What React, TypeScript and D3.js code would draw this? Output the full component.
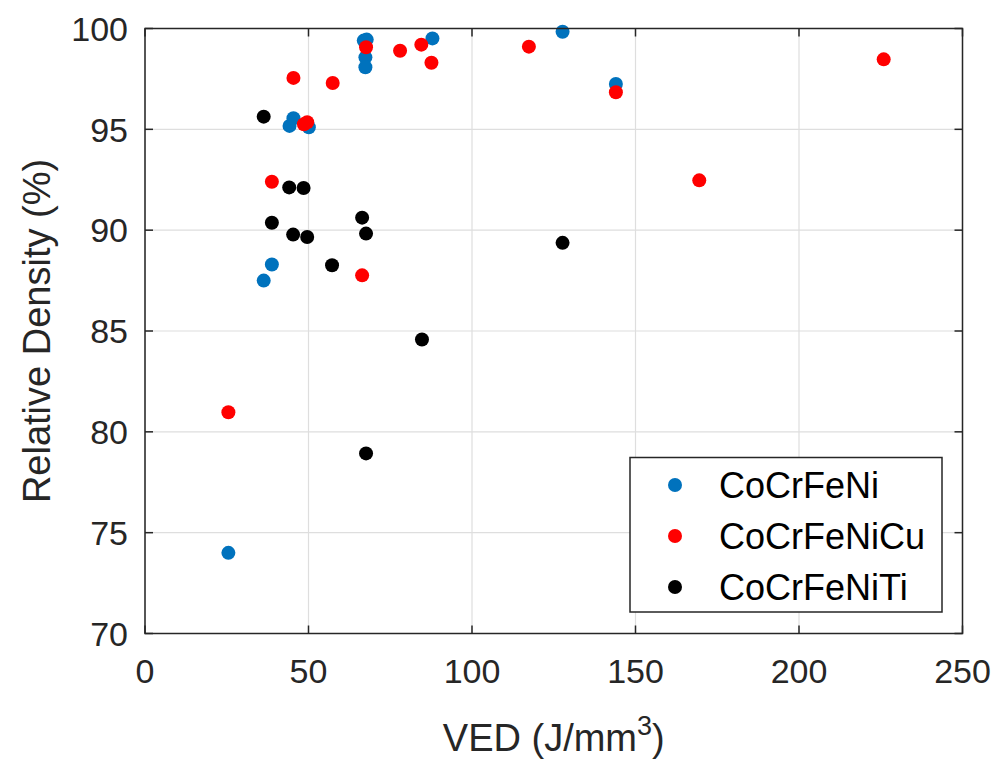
import React, { useRef, useEffect } from 'react';
import * as d3 from 'd3';

// Scatter of relative density vs volumetric energy density for three alloys

const X_TICKS = [0, 50, 100, 150, 200, 250];
const Y_TICKS = [70, 75, 80, 85, 90, 95, 100];

const SERIES_NAMES = ['CoCrFeNi', 'CoCrFeNiCu', 'CoCrFeNiTi'];
const SERIES_COLORS = ['#0072BD', '#FF0000', '#000000'];

// [VED, relative density]
const COCRFENI: [number, number][] = [
  [25.5, 74.0],
  [36.3, 87.5],
  [38.8, 88.3],
  [44.2, 95.17],
  [45.4, 95.55],
  [50.1, 95.1],
  [66.9, 99.4],
  [67.8, 99.45],
  [67.4, 98.57],
  [67.4, 98.08],
  [87.9, 99.51],
  [127.7, 99.84],
  [144.0, 97.25],
];

const COCRFENICU: [number, number][] = [
  [25.5, 80.97],
  [38.8, 92.4],
  [45.4, 97.55],
  [48.6, 95.25],
  [49.6, 95.35],
  [57.4, 97.3],
  [66.4, 87.76],
  [67.6, 99.07],
  [78.0, 98.9],
  [84.5, 99.2],
  [87.6, 98.3],
  [117.4, 99.1],
  [144.0, 96.84],
  [169.5, 92.47],
  [225.9, 98.47],
];

const COCRFENITI: [number, number][] = [
  [36.3, 95.63],
  [38.8, 90.37],
  [44.1, 92.12],
  [45.3, 89.78],
  [48.5, 92.09],
  [49.6, 89.66],
  [57.2, 88.26],
  [66.4, 90.62],
  [67.6, 89.83],
  [67.6, 78.93],
  [84.7, 84.58],
  [127.7, 89.37],
];

const ALL_SERIES = [COCRFENI, COCRFENICU, COCRFENITI];

const WIDTH = 1005;
const HEIGHT = 760;
const FONT = '"Liberation Sans", Arial, sans-serif';
const AXIS_COLOR = '#262626';

const App: React.FC = () => {
  const svgRef = useRef<SVGSVGElement>(null);

  useEffect(() => {
    if (!svgRef.current) return;
    const root = d3.select(svgRef.current);
    root.selectAll('*').remove();

    const left = 145;
    const right = 962.5;
    const top = 28.5;
    const bottom = 633.5;

    const x = d3.scaleLinear().domain([0, 250]).range([left, right]);
    const y = d3.scaleLinear().domain([70, 100]).range([bottom, top]);

    root.append('rect').attr('width', WIDTH).attr('height', HEIGHT).attr('fill', '#fff');

    // Grid
    const grid = root.append('g').attr('stroke', '#dedede').attr('stroke-width', 1.2);
    X_TICKS.forEach((t) => {
      grid.append('line').attr('x1', x(t)).attr('x2', x(t)).attr('y1', top).attr('y2', bottom);
    });
    Y_TICKS.forEach((t) => {
      grid.append('line').attr('x1', left).attr('x2', right).attr('y1', y(t)).attr('y2', y(t));
    });

    // Points (drawn in series order so later ones sit on top)
    ALL_SERIES.forEach((pts, i) => {
      root
        .append('g')
        .selectAll('circle')
        .data(pts)
        .enter()
        .append('circle')
        .attr('cx', (d) => x(d[0]))
        .attr('cy', (d) => y(d[1]))
        .attr('r', 7)
        .attr('fill', SERIES_COLORS[i]);
    });

    // Box + inward ticks
    const tickLen = 8;
    const axes = root.append('g').attr('stroke', AXIS_COLOR).attr('stroke-width', 1.5);
    axes
      .append('rect')
      .attr('x', left)
      .attr('y', top)
      .attr('width', right - left)
      .attr('height', bottom - top)
      .attr('fill', 'none');
    X_TICKS.forEach((t) => {
      axes.append('line').attr('x1', x(t)).attr('x2', x(t)).attr('y1', bottom).attr('y2', bottom - tickLen);
      axes.append('line').attr('x1', x(t)).attr('x2', x(t)).attr('y1', top).attr('y2', top + tickLen);
    });
    Y_TICKS.forEach((t) => {
      axes.append('line').attr('x1', left).attr('x2', left + tickLen).attr('y1', y(t)).attr('y2', y(t));
      axes.append('line').attr('x1', right).attr('x2', right - tickLen).attr('y1', y(t)).attr('y2', y(t));
    });

    // Tick labels
    X_TICKS.forEach((t) => {
      root
        .append('text')
        .attr('x', x(t))
        .attr('y', 683)
        .attr('text-anchor', 'middle')
        .style('font-family', FONT)
        .style('font-size', '34px')
        .style('fill', AXIS_COLOR)
        .text(String(t));
    });
    Y_TICKS.forEach((t) => {
      root
        .append('text')
        .attr('x', 128)
        .attr('y', y(t))
        .attr('dy', '0.36em')
        .attr('text-anchor', 'end')
        .style('font-family', FONT)
        .style('font-size', '34px')
        .style('fill', AXIS_COLOR)
        .text(String(t));
    });

    // Axis titles
    const xl = root
      .append('text')
      .attr('x', (left + right) / 2)
      .attr('y', 751)
      .attr('text-anchor', 'middle')
      .style('font-family', FONT)
      .style('font-size', '38px')
      .style('fill', AXIS_COLOR);
    xl.append('tspan').text('VED (J/mm');
    xl.append('tspan').attr('dy', -16).style('font-size', '27px').text('3');
    xl.append('tspan').attr('dy', 16).text(')');

    root
      .append('text')
      .attr('transform', `translate(50,${(top + bottom) / 2}) rotate(-90)`)
      .attr('text-anchor', 'middle')
      .style('font-family', FONT)
      .style('font-size', '38px')
      .style('fill', AXIS_COLOR)
      .text('Relative Density (%)');

    // Legend
    const lg = root.append('g');
    lg.append('rect')
      .attr('x', 630)
      .attr('y', 457.5)
      .attr('width', 312)
      .attr('height', 154.5)
      .attr('fill', '#fff')
      .attr('stroke', AXIS_COLOR)
      .attr('stroke-width', 1.5);
    SERIES_NAMES.forEach((name, i) => {
      const cy = 485 + i * 51;
      lg.append('circle').attr('cx', 675).attr('cy', cy).attr('r', 7).attr('fill', SERIES_COLORS[i]);
      lg.append('text')
        .attr('x', 719)
        .attr('y', cy)
        .attr('dy', '0.36em')
        .style('font-family', FONT)
        .style('font-size', '36px')
        .style('fill', '#000')
        .text(name);
    });
  }, []);

  return (
    <svg
      ref={svgRef}
      width={WIDTH}
      height={HEIGHT}
      style={{ position: 'absolute', left: 0, top: 0 }}
    />
  );
};

export default App;
